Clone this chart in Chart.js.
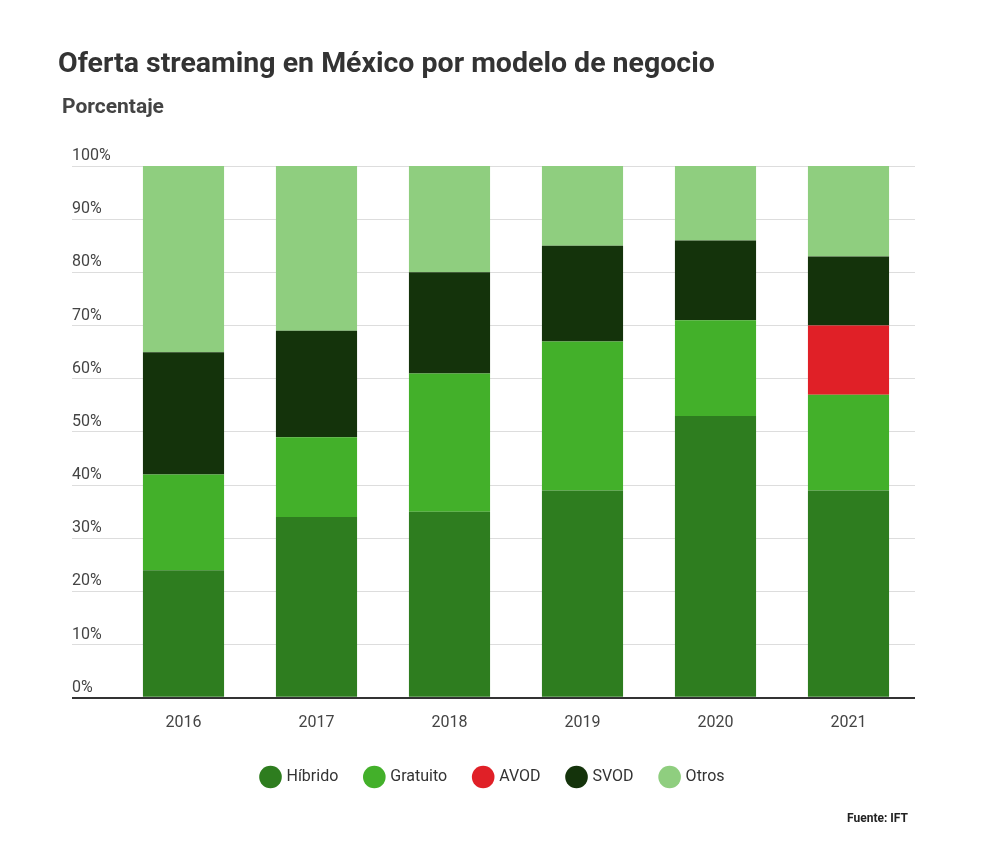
<!DOCTYPE html>
<html lang="es">
<head>
<meta charset="UTF-8">
<title>Oferta streaming en México</title>
<script src="https://cdn.jsdelivr.net/npm/chart.js"></script>
<style>
  body { margin: 0; background: #fff; font-family: Roboto, sans-serif; }
  #wrap { position: relative; width: 1000px; height: 844px; }
  #title { position: absolute; left: 58px; top: 46px; font-size: 28.5px; font-weight: 700; color: #333; }
  #sub { position: absolute; left: 62px; top: 94px; font-size: 21px; font-weight: 700; color: #444; }
  #src { position: absolute; right: 92px; top: 811px; font-size: 12px; font-weight: 700; color: #222; }
  canvas { position: absolute; left: 0; top: 0; }
</style>
</head>
<body>
<div id="wrap">
  <canvas id="myChart" width="1000" height="844"></canvas>
  <div id="title">Oferta streaming en México por modelo de negocio</div>
  <div id="sub">Porcentaje</div>
  <div id="src">Fuente: IFT</div>
</div>
<script>
const years = ['2016', '2017', '2018', '2019', '2020', '2021'];
const hibrido = [24, 34, 35, 39, 53, 39];
const gratuito = [18, 15, 26, 28, 18, 18];
const avod = [0, 0, 0, 0, 0, 13];
const svod = [23, 20, 19, 18, 15, 13];
const otros = [35, 31, 20, 15, 14, 17];

const ctx = document.getElementById('myChart').getContext('2d');
new Chart(ctx, {
  type: 'bar',
  data: {
    labels: years,
    datasets: [
      { label: 'Híbrido', data: hibrido, backgroundColor: '#2e7d1f' },
      { label: 'Gratuito', data: gratuito, backgroundColor: '#43b02a' },
      { label: 'AVOD', data: avod, backgroundColor: '#e02027' },
      { label: 'SVOD', data: svod, backgroundColor: '#14330b' },
      { label: 'Otros', data: otros, backgroundColor: '#8fce7f' }
    ]
  },
  options: {
    responsive: false,
    animation: false,
    layout: { padding: { top: 166, left: 72, right: 85, bottom: 49 } },
    datasets: { bar: { barPercentage: 0.61, categoryPercentage: 1 } },
    plugins: {
      legend: {
        position: 'bottom',
        labels: {
          usePointStyle: true, pointStyle: 'circle', boxWidth: 22, boxHeight: 22,
          padding: 28, color: '#333', font: { family: 'Roboto', size: 16 }
        }
      },
      tooltip: { enabled: false }
    },
    scales: {
      x: {
        stacked: true,
        grid: { display: false },
        border: { display: false },
        ticks: { color: '#444', font: { family: 'Roboto', size: 16 }, padding: 8 }
      },
      y: {
        stacked: true,
        min: 0, max: 100,
        afterFit: s => { s.width = 45; },
        grid: {
          color: c => c.tick.value === 0 ? '#333' : '#dddddd',
          lineWidth: c => c.tick.value === 0 ? 2 : 1,
          drawTicks: true, tickLength: 45
        },
        border: { display: false },
        ticks: {
          stepSize: 10, crossAlign: 'far', padding: 0, labelOffset: -10,
          color: '#444', font: { family: 'Roboto', size: 16 },
          callback: v => v + '%'
        }
      }
    }
  }
});
</script>
</body>
</html>
